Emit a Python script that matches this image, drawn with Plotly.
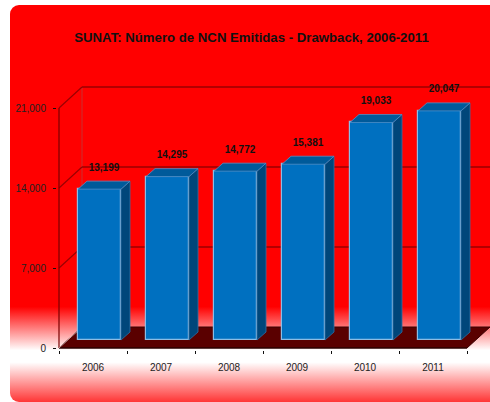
import base64
import plotly.graph_objects as go

# ---------------- data ----------------
years = ["2006", "2007", "2008", "2009", "2010", "2011"]
values = [13199, 14295, 14772, 15381, 19033, 20047]
value_labels = ["13,199", "14,295", "14,772", "15,381", "19,033", "20,047"]
y_ticks = [0, 7000, 14000, 21000]
y_tick_labels = ["0", "7,000", "14,000", "21,000"]
title_text = "SUNAT: Número de NCN Emitidas - Drawback, 2006-2011"

# ---------------- geometry (pixel based scales) ----------------
W, H = 490, 402
L, R, T, B = 57, 0, 80, 52
PX_PER_CAT = 68.0
UNITS_PER_PX = 87.5
plot_w = W - L - R
plot_h = H - T - B
x_min = -0.5 - 2 / PX_PER_CAT
x_max = x_min + plot_w / PX_PER_CAT
y_min = -2 * UNITS_PER_PX
y_max = y_min + plot_h * UNITS_PER_PX

WALL_DX = 23 / PX_PER_CAT
WALL_DY = 21 * UNITS_PER_PX
BAR_SHIFT = 6.5 / PX_PER_CAT
BAR_BASE = 8 * UNITS_PER_PX
BAR_W = 43 / PX_PER_CAT
BAR_DX = 9 / PX_PER_CAT
BAR_DY = 8 * UNITS_PER_PX
LABEL_LIFT = 8 * UNITS_PER_PX

n = len(years)
left_edge = -0.5
right_edge = n - 0.5
top_val = y_ticks[-1]

FONT = "Liberation Sans, Arial, sans-serif"
WALL_LINE = "#9A0000"
FLOOR = "#5A0000"
FRONT = "#0070C0"
SIDE = "#00467A"
TOP = "#005A9A"
EDGE = "#8CBCE4"

fig = go.Figure()

# front faces
centers = [i + BAR_SHIFT for i in range(n)]
fig.add_trace(go.Bar(
    x=centers, y=values, base=BAR_BASE, width=BAR_W,
    marker=dict(color=FRONT, line=dict(color=EDGE, width=1.2)),
    hoverinfo="skip", showlegend=False,
))

# sides and tops
for c, v in zip(centers, values):
    xl, xr = c - BAR_W / 2, c + BAR_W / 2
    top = BAR_BASE + v
    fig.add_trace(go.Scatter(
        x=[xr, xr, xr + BAR_DX, xr + BAR_DX, xr],
        y=[BAR_BASE, top, top + BAR_DY, BAR_BASE + BAR_DY, BAR_BASE],
        fill="toself", fillcolor=SIDE, mode="lines",
        line=dict(color="#2F6FA5", width=0.8),
        hoverinfo="skip", showlegend=False,
    ))
    fig.add_trace(go.Scatter(
        x=[xl, xr, xr + BAR_DX, xl + BAR_DX, xl],
        y=[top, top, top + BAR_DY, top + BAR_DY, top],
        fill="toself", fillcolor=TOP, mode="lines",
        line=dict(color="#4F8FC8", width=0.8),
        hoverinfo="skip", showlegend=False,
    ))

# value labels
fig.add_trace(go.Scatter(
    x=[c + BAR_DX / 2 for c in centers],
    y=[BAR_BASE + v + BAR_DY + LABEL_LIFT for v in values],
    text=value_labels, mode="text", textposition="top center",
    textfont=dict(family=FONT, size=10, color="#111111", weight="bold"),
    hoverinfo="skip", showlegend=False,
))

shapes = []
# floor
shapes.append(dict(
    type="path", layer="below", xref="x", yref="y",
    path=(f"M {left_edge},0 L {right_edge},0 L {right_edge + WALL_DX},{WALL_DY} "
          f"L {left_edge + WALL_DX},{WALL_DY} Z"),
    fillcolor=FLOOR, line=dict(color="#3A0000", width=1),
))
# back wall vertical edge
shapes.append(dict(type="line", layer="below", xref="x", yref="y",
                   x0=left_edge + WALL_DX, x1=left_edge + WALL_DX,
                   y0=WALL_DY, y1=top_val + WALL_DY,
                   line=dict(color="#C83030", width=1)))
# back wall gridlines and side wall diagonals
for t in y_ticks[1:]:
    shapes.append(dict(type="line", layer="below", xref="x", yref="y",
                       x0=left_edge + WALL_DX, x1=right_edge + WALL_DX,
                       y0=t + WALL_DY, y1=t + WALL_DY,
                       line=dict(color=WALL_LINE, width=1.5)))
    shapes.append(dict(type="line", layer="below", xref="x", yref="y",
                       x0=left_edge, x1=left_edge + WALL_DX,
                       y0=t, y1=t + WALL_DY,
                       line=dict(color=WALL_LINE, width=1.2)))
# front y axis line
shapes.append(dict(type="line", layer="below", xref="x", yref="y",
                   x0=left_edge, x1=left_edge, y0=0, y1=top_val,
                   line=dict(color="#7A0000", width=1.2)))
# front x axis line
shapes.append(dict(type="line", layer="below", xref="x", yref="y",
                   x0=left_edge, x1=right_edge, y0=0, y1=0,
                   line=dict(color="#200000", width=1.2)))
# left floor/wall corner edge
shapes.append(dict(type="line", layer="below", xref="x", yref="y",
                   x0=left_edge, x1=left_edge + WALL_DX, y0=0, y1=WALL_DY,
                   line=dict(color="#C8A0A0", width=1)))

# background gradient panel
svg = (
    '<svg xmlns="http://www.w3.org/2000/svg" width="490" height="397" '
    'viewBox="0 0 490 397" preserveAspectRatio="none">'
    '<defs><linearGradient id="g" x1="0" y1="0" x2="0" y2="1">'
    '<stop offset="0" stop-color="#FF0000"/>'
    '<stop offset="0.76" stop-color="#FF0000"/>'
    '<stop offset="0.87" stop-color="#FFFFFF"/>'
    '<stop offset="0.9" stop-color="#FFFFFF"/>'
    '<stop offset="1" stop-color="#FF3535"/>'
    '</linearGradient></defs>'
    '<rect x="0" y="0" width="490" height="397" rx="9" ry="9" fill="url(#g)"/></svg>'
)
src = "data:image/svg+xml;base64," + base64.b64encode(svg.encode()).decode()
bg_left, bg_top, bg_w, bg_h = 10, 5, 490, 397
images = [dict(
    source=src, xref="paper", yref="paper", layer="below", sizing="stretch",
    x=(bg_left - L) / plot_w, y=(H - B - bg_top) / plot_h,
    sizex=bg_w / plot_w, sizey=bg_h / plot_h, xanchor="left", yanchor="top",
)]

fig.update_layout(
    width=W, height=H,
    margin=dict(l=L, r=R, t=T, b=B, pad=0),
    paper_bgcolor="white", plot_bgcolor="rgba(0,0,0,0)",
    showlegend=False,
    shapes=shapes, images=images,
    title=dict(text=title_text, x=251.5 / W, y=1 - 37 / H,
               xanchor="center", yanchor="middle", xref="container", yref="container",
               font=dict(family=FONT, size=13.2, color="#111111", weight="bold")),
    xaxis=dict(range=[x_min, x_max], tickmode="array",
               tickvals=list(range(n)), ticktext=years,
               ticks="outside", ticklen=8, tickcolor="rgba(0,0,0,0)",
               minor=dict(tickmode="array", tickvals=[i - 0.5 for i in range(n + 1)],
                          ticks="outside", ticklen=3, tickcolor="#111111", tickwidth=1),
               showgrid=False, zeroline=False, showline=False,
               tickfont=dict(family=FONT, size=10, color="#222222")),
    yaxis=dict(range=[y_min, y_max], tickmode="array",
               tickvals=y_ticks, ticktext=y_tick_labels,
               ticks="outside", ticklen=3, tickcolor="#111111",
               ticklabelstandoff=5,
               showgrid=False, zeroline=False, showline=False,
               tickfont=dict(family=FONT, size=10, color="#222222")),
    bargap=0,
)

fig.write_html(
    "out.html",
    config={"displayModeBar": False},
    post_script="document.body.style.margin='0';document.body.style.overflow='hidden';",
)
